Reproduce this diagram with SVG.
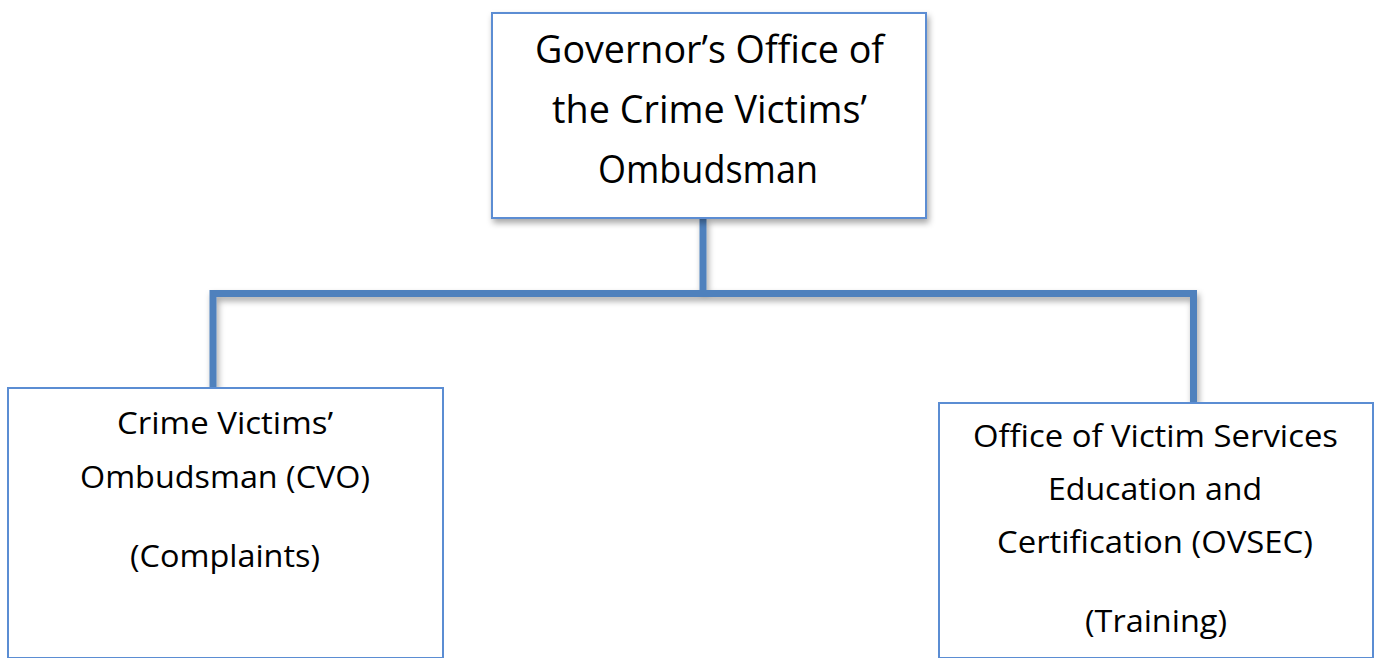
<svg xmlns="http://www.w3.org/2000/svg" width="1375" height="658" viewBox="0 0 1375 658">
<defs>
<filter id="sh" x="-10%" y="-10%" width="130%" height="130%">
<feDropShadow dx="2" dy="4" stdDeviation="3" flood-color="#000" flood-opacity="0.35"/>
</filter>
<style>
.box{fill:#fff;stroke:#5b8dd3;stroke-width:2}
.conn{fill:none;stroke:#4f81bd;stroke-width:7;stroke-linejoin:miter}
.t{font-family:"Open Sans","Liberation Sans",Arial,sans-serif;fill:#000;text-anchor:middle}
.big{font-size:39px}
.sm{font-size:31px}
</style>
</defs>
<rect width="1375" height="658" fill="#fff"/>
<g id="connectors" filter="url(#sh)">
<path class="conn" d="M703,218 V293.5"/>
<path class="conn" d="M213,388 V293.5 H1193.5 V403"/>
</g>
<g id="top">
<rect class="box" x="492" y="13" width="434" height="205" filter="url(#sh)"/>
<text class="t big" x="709.5" y="63" textLength="349" lengthAdjust="spacingAndGlyphs">Governor’s Office of</text>
<text class="t big" x="709.5" y="123" textLength="315" lengthAdjust="spacingAndGlyphs">the Crime Victims’</text>
<text class="t big" x="708" y="183" textLength="220" lengthAdjust="spacingAndGlyphs">Ombudsman</text>
</g>
<g id="cvo">
<rect class="box" x="8" y="388" width="435" height="270"/>
<text class="t sm" x="225" y="434" textLength="216" lengthAdjust="spacingAndGlyphs">Crime Victims’</text>
<text class="t sm" x="225" y="488" textLength="290" lengthAdjust="spacingAndGlyphs">Ombudsman (CVO)</text>
<text class="t sm" x="225" y="567" textLength="190" lengthAdjust="spacingAndGlyphs">(Complaints)</text>
</g>
<g id="ovsec">
<rect class="box" x="939" y="403" width="434" height="255"/>
<text class="t sm" x="1155.5" y="447" textLength="365" lengthAdjust="spacingAndGlyphs">Office of Victim Services</text>
<text class="t sm" x="1155" y="500" textLength="214" lengthAdjust="spacingAndGlyphs">Education and</text>
<text class="t sm" x="1155" y="553" textLength="316" lengthAdjust="spacingAndGlyphs">Certification (OVSEC)</text>
<text class="t sm" x="1156" y="632" textLength="142" lengthAdjust="spacingAndGlyphs">(Training)</text>
</g>
</svg>
